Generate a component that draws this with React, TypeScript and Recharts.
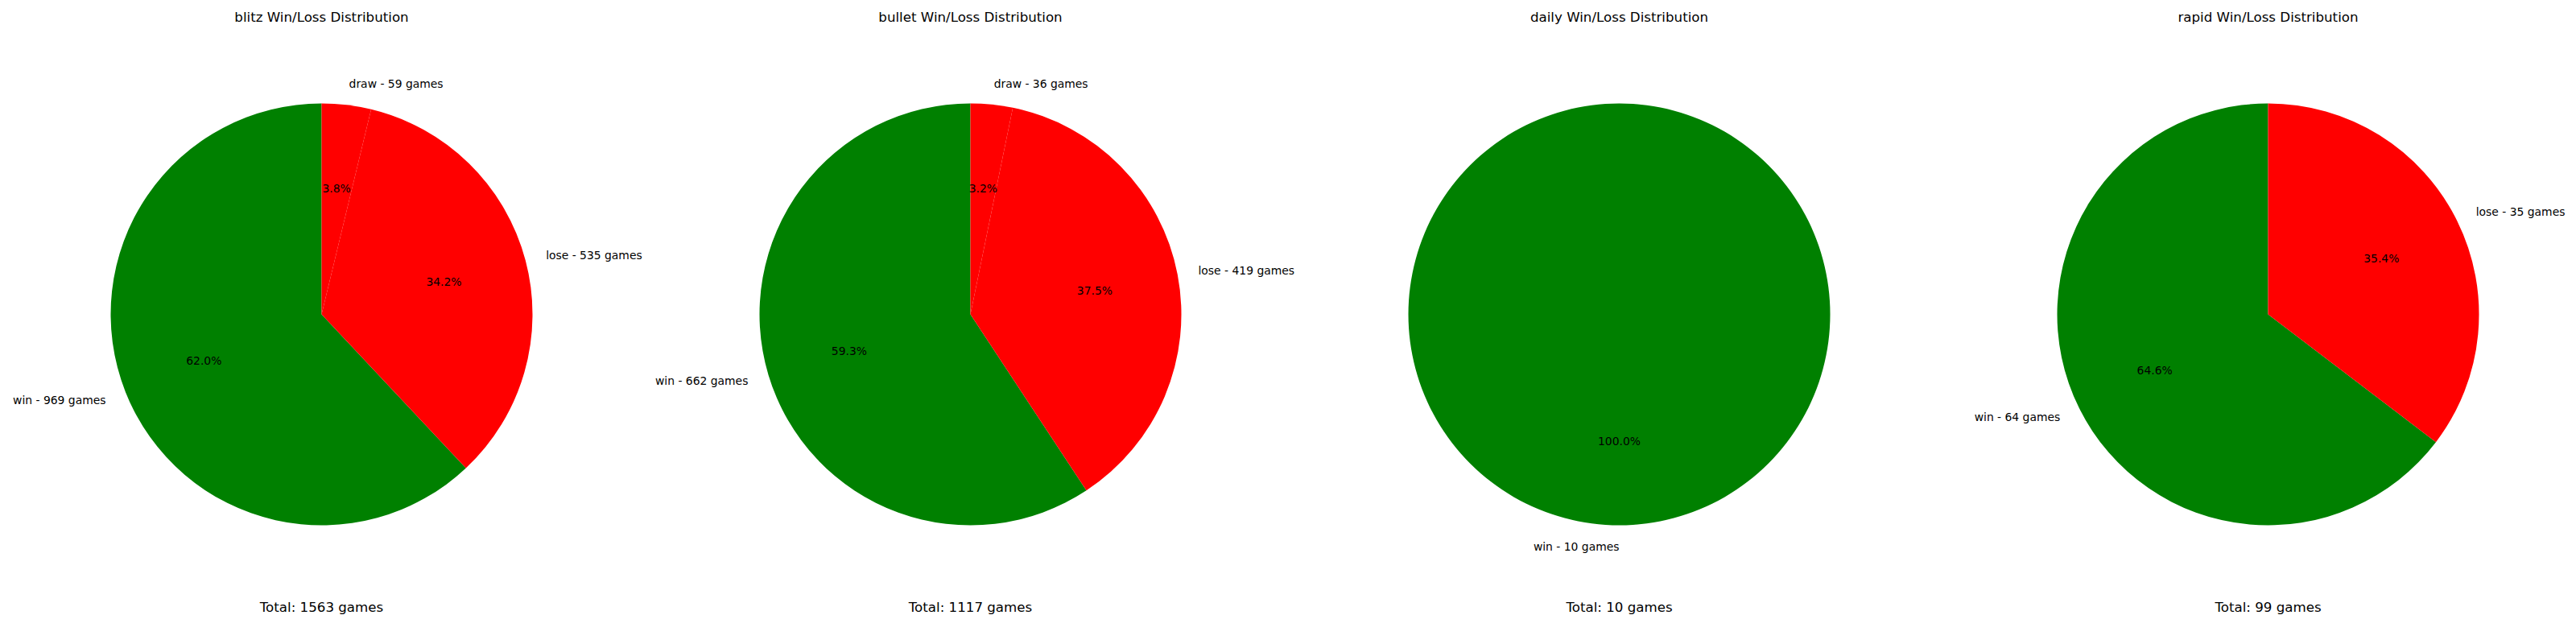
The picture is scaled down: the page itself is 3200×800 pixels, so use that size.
import { PieChart, Pie, Cell } from 'recharts';

const modes = ['blitz', 'bullet', 'daily', 'rapid'];
const outcomes = ['win', 'lose', 'draw'];
const blitzGames = [969, 535, 59];
const bulletGames = [662, 419, 36];
const dailyGames = [10, 0, 0];
const rapidGames = [64, 35, 0];
const outcomeColors: Record<string, string> = { win: '#008000', lose: '#ff0000', draw: '#ff0000' };

const gamesByMode = [blitzGames, bulletGames, dailyGames, rapidGames];

const W = 3200;
const H = 800;
const CY = 390.5;
const R = 262;
const FONT = '"DejaVu Sans", sans-serif';
const RADIAN = Math.PI / 180;

const centerX = (i: number) => 399.5 + 806 * i;

function sliceLabel(props: any) {
  const { cx, cy, midAngle, outerRadius, percent, name, value } = props;
  const cos = Math.cos(-midAngle * RADIAN);
  const sin = Math.sin(-midAngle * RADIAN);
  const lx = cx + outerRadius * 1.1 * cos;
  const ly = cy + outerRadius * 1.1 * sin;
  const px = cx + outerRadius * 0.6 * cos;
  const py = cy + outerRadius * 0.6 * sin;
  return (
    <g>
      <text x={lx} y={ly} textAnchor={cos > 0 ? 'start' : 'end'} dominantBaseline="central"
        fontSize={13.9} fontFamily={FONT} fill="#000">
        {`${name} - ${value} games`}
      </text>
      <text x={px} y={py} textAnchor="middle" dominantBaseline="central"
        fontSize={13.9} fontFamily={FONT} fill="#000">
        {`${(percent * 100).toFixed(1)}%`}
      </text>
    </g>
  );
}

export default function App() {
  return (
    <div style={{ position: 'fixed', left: 0, top: 0, width: W, height: H, background: '#fff', fontFamily: FONT }}>
      <PieChart width={W} height={H} margin={{ top: 0, right: 0, bottom: 0, left: 0 }}>
        {modes.map((mode, i) => {
          const data = outcomes
            .map((o, j) => ({ name: o, value: gamesByMode[i][j] }))
            .filter((d) => d.value > 0);
          return (
            <Pie
              key={mode}
              data={data}
              dataKey="value"
              nameKey="name"
              cx={centerX(i)}
              cy={CY}
              outerRadius={R}
              startAngle={90}
              endAngle={450}
              stroke="none"
              label={sliceLabel}
              labelLine={false}
              isAnimationActive={false}
            >
              {data.map((d) => (
                <Cell key={d.name} fill={outcomeColors[d.name]} />
              ))}
            </Pie>
          );
        })}
      </PieChart>
      {modes.map((mode, i) => {
        const total = gamesByMode[i].reduce((a, b) => a + b, 0);
        return (
          <div key={mode}>
            <div style={{ position: 'absolute', left: centerX(i) - 300, width: 600, top: 12, textAlign: 'center', fontSize: 16.67, lineHeight: '20px', color: '#000' }}>
              {mode} Win/Loss Distribution
            </div>
            <div style={{ position: 'absolute', left: centerX(i) - 300, width: 600, top: 745, textAlign: 'center', fontSize: 16.67, lineHeight: '20px', color: '#000' }}>
              Total: {total} games
            </div>
          </div>
        );
      })}
    </div>
  );
}
